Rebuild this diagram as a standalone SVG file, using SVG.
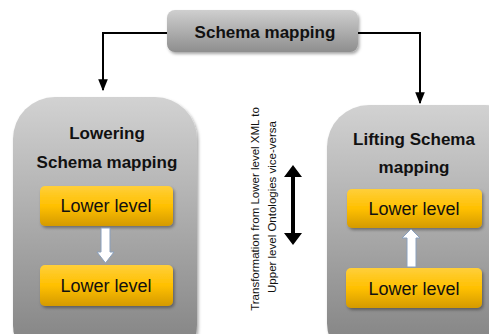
<svg xmlns="http://www.w3.org/2000/svg" width="489" height="334" viewBox="0 0 489 334">
<defs>
<linearGradient id="gGray" x1="0" y1="0" x2="0" y2="1">
<stop offset="0" stop-color="#d2d2d2"/>
<stop offset="1" stop-color="#7e7e7e"/>
</linearGradient>
<linearGradient id="gTop" x1="0" y1="0" x2="0" y2="1">
<stop offset="0" stop-color="#cfcfcf"/>
<stop offset="1" stop-color="#8e8e8e"/>
</linearGradient>
<linearGradient id="gYel" x1="0" y1="0" x2="0" y2="1">
<stop offset="0" stop-color="#ffcf3a"/>
<stop offset="0.5" stop-color="#ffc000"/>
<stop offset="1" stop-color="#d49a00"/>
</linearGradient>
<filter id="sh" x="-10%" y="-10%" width="130%" height="140%">
<feDropShadow dx="1.5" dy="2" stdDeviation="1.5" flood-color="#000" flood-opacity="0.35"/>
</filter>
<marker id="ah" viewBox="0 0 10 10" refX="9" refY="5" markerWidth="6" markerHeight="6" orient="auto">
<path d="M0,1 L10,5 L0,9 z" fill="#000"/>
</marker>
</defs>
<style>
.t{font-family:"Liberation Sans",Arial,sans-serif;fill:#111;text-anchor:middle}
.b{font-weight:bold;font-size:17px}
.y{font-size:18px}
.v{font-size:11.5px}
.ln{stroke:#000;stroke-width:2;fill:none}
.wa{fill:#fff;stroke:#8aa0bd;stroke-width:1}
</style>
<g id="connectors">
<path class="ln" d="M167,33 H103 V90" marker-end="url(#ah)"/>
<path class="ln" d="M358,33 H420 V103" marker-end="url(#ah)"/>
</g>
<g id="top">
<rect x="167" y="10" width="191" height="42" rx="8" fill="url(#gTop)" filter="url(#sh)"/>
<text class="t b" x="265" y="38">Schema mapping</text>
</g>
<g id="lowering">
<rect x="13" y="97" width="184" height="270" rx="42" fill="url(#gGray)" filter="url(#sh)"/>
<text class="t b" x="107" y="139">Lowering</text>
<text class="t b" x="107" y="168">Schema mapping</text>
</g>
<g id="lower1">
<rect x="40" y="186" width="133" height="40" rx="5" fill="url(#gYel)" filter="url(#sh)"/>
<text class="t y" x="106" y="212">Lower level</text>
</g>
<g id="downArrow">
<path class="wa" d="M101,228 H110 V252 H114 L105.5,263 L97,252 H101 Z"/>
</g>
<g id="lower2">
<rect x="40" y="265" width="133" height="41" rx="5" fill="url(#gYel)" filter="url(#sh)"/>
<text class="t y" x="106" y="292">Lower level</text>
</g>
<g id="lifting">
<rect x="327" y="105" width="200" height="260" rx="42" fill="url(#gGray)" filter="url(#sh)"/>
<text class="t b" x="414" y="145">Lifting Schema</text>
<text class="t b" x="414" y="173">mapping</text>
</g>
<g id="lower3">
<rect x="347" y="189" width="135" height="39" rx="5" fill="url(#gYel)" filter="url(#sh)"/>
<text class="t y" x="414" y="215">Lower level</text>
</g>
<g id="upArrow">
<path class="wa" d="M407,267 V238 H402 L411,229 L420,238 H416 V267 Z"/>
</g>
<g id="lower4">
<rect x="346" y="268" width="136" height="40" rx="5" fill="url(#gYel)" filter="url(#sh)"/>
<text class="t y" x="414" y="295">Lower level</text>
</g>
<g id="transform">
<text class="t v" transform="translate(259,209) rotate(-90)">Transformation from Lower level XML to</text>
<text class="t v" transform="translate(276,207) rotate(-90)">Upper level Ontologies vice-versa</text>
</g>
<g id="doubleArrow">
<path d="M293,165 L302,177 H295 V233 H302 L293,245 L284,233 H291 V177 H284 Z" fill="#000"/>
</g>
</svg>
